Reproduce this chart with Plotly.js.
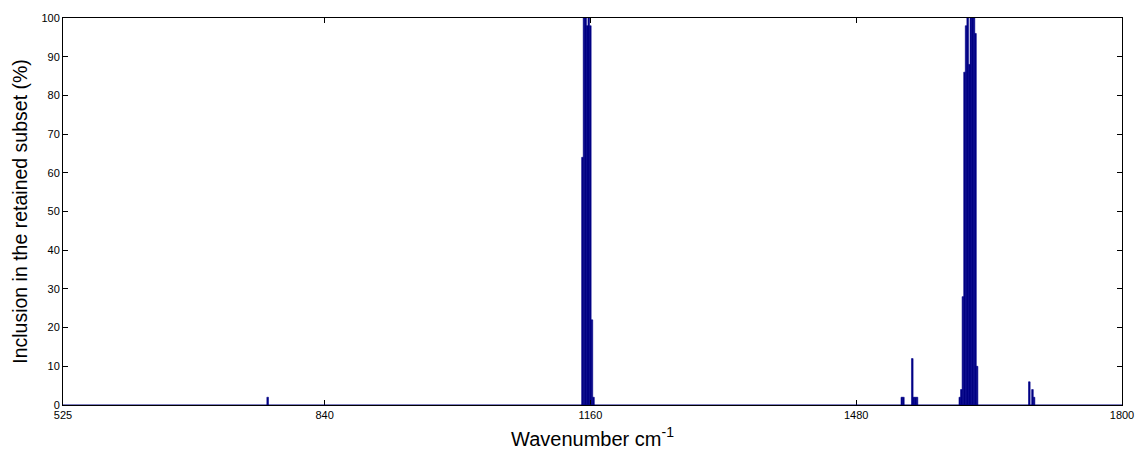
<!DOCTYPE html>
<html>
<head>
<meta charset="utf-8">
<script src="https://cdn.plot.ly/plotly-3.0.1.min.js"></script>
<style>
  html, body { margin: 0; padding: 0; background: #ffffff; }
  #chart { width: 1135px; height: 452px; }
</style>
</head>
<body>
<div id="chart"></div>
<script>
// Wavenumber positions (cm^-1) of the spectral variables that were selected
const wavenumbers = [
  771.4,
  1150.4, 1152.3, 1154.2, 1156.1, 1158.0, 1159.9, 1161.8, 1163.7,
  1534.9, 1536.8, 1547.5, 1549.4, 1551.3, 1553.2,
  1604.7, 1606.6, 1608.5, 1610.4, 1612.3, 1614.2, 1616.1, 1618.0, 1619.9, 1621.8, 1623.6, 1625.5,
  1688.4, 1692.2, 1694.1
];

// Percentage of runs in which each variable ended up in the retained subset
const inclusion = [
  2,
  64, 100, 100, 98, 100, 98, 22, 2,
  2, 2, 12, 2, 2, 2,
  2, 4, 28, 86, 98, 100, 88, 100, 100, 100, 96, 10,
  6, 4, 2
];

const xTickValues = [525, 840, 1160, 1480, 1800];
const yTickValues = [0, 10, 20, 30, 40, 50, 60, 70, 80, 90, 100];

const FONT = 'Liberation Sans, Arial, sans-serif';

const trace = {
  type: 'bar',
  x: wavenumbers,
  y: inclusion,
  width: 1.93,
  marker: { color: '#000080', line: { width: 0.6, color: '#00008c' } },
  hoverinfo: 'x+y'
};

const layout = {
  width: 1135,
  height: 452,
  margin: { l: 63, r: 13, t: 18, b: 47 },
  paper_bgcolor: '#ffffff',
  plot_bgcolor: '#ffffff',
  showlegend: false,
  bargap: 0,
  font: { family: FONT, color: '#000000', size: 11 },
  xaxis: {
    range: [525, 1800],
    tickmode: 'array',
    tickvals: xTickValues,
    ticktext: xTickValues.map(String),
    ticks: 'inside',
    ticklen: 5,
    tickcolor: '#000000',
    showline: true,
    linecolor: '#000000',
    linewidth: 1,
    mirror: 'ticks',
    showgrid: false,
    zeroline: false,
    tickfont: { family: FONT, size: 11, color: '#000000' },
    title: {
      text: 'Wavenumber cm<sup>-1</sup>',
      font: { family: FONT, size: 20, color: '#000000' },
      standoff: 11
    }
  },
  yaxis: {
    range: [0, 100],
    tickmode: 'array',
    tickvals: yTickValues,
    ticktext: yTickValues.map(String),
    ticks: 'inside',
    ticklen: 5,
    tickcolor: '#000000',
    showline: true,
    linecolor: '#000000',
    linewidth: 1,
    mirror: 'ticks',
    showgrid: false,
    zeroline: false,
    tickfont: { family: FONT, size: 11, color: '#000000' },
    title: {
      text: 'Inclusion in the retained subset (%)',
      font: { family: FONT, size: 19.5, color: '#000000' },
      standoff: 8
    }
  },
  shapes: [
    {
      // bar baseline along y = 0
      type: 'line', layer: 'above',
      xref: 'paper', yref: 'y',
      x0: 0, x1: 1, y0: 0, y1: 0,
      line: { color: '#000080', width: 1 }
    }
  ]
};

Plotly.newPlot('chart', [trace], layout, { displayModeBar: false, staticPlot: true });
</script>
</body>
</html>
